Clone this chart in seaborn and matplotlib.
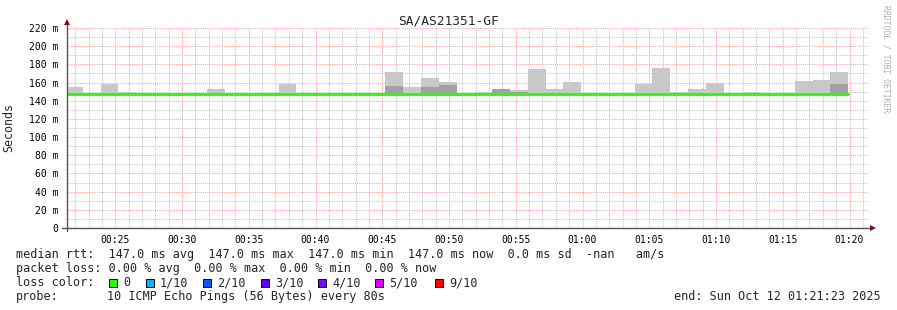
import numpy as np
import pandas as pd
import matplotlib
matplotlib.use("Agg")
import matplotlib.pyplot as plt
import matplotlib.dates as mdates
from matplotlib.patches import Rectangle
from matplotlib.ticker import MultipleLocator, FuncFormatter
import seaborn as sns

# ---------------- data ----------------
title = "SA/AS21351-GF"
first_bin = "2025-10-12 00:21:14"
step_seconds = 80
# median rtt per 80 s bin (ms)
median_ms = [147.0] * 44
# top of light smoke (max ping) per bin (ms)
smoke_max_ms = [155.1, 147.0, 158.4, 149.6, 147.0, 147.0, 147.0, 148.5, 152.9, 148.5,
                147.0, 147.0, 158.4, 148.5, 147.0, 147.0, 148.5, 148.5, 171.6, 155.1,
                165.0, 160.6, 147.0, 149.6, 152.9, 151.8, 174.9, 152.9, 160.6, 147.0,
                147.0, 147.0, 158.4, 176.0, 149.6, 152.9, 159.5, 147.0, 149.6, 147.0,
                147.0, 161.7, 162.8, 171.6]
# top of dark smoke (inner pings) per bin (ms)
smoke_dark_ms = [147.0, 147.0, 147.0, 147.0, 147.0, 147.0, 147.0, 147.0, 147.0, 147.0,
                 147.0, 147.0, 147.0, 147.0, 147.0, 147.0, 147.0, 147.0, 156.2, 149.0,
                 155.1, 157.6, 147.0, 147.0, 152.9, 149.6, 148.0, 147.0, 147.0, 147.0,
                 147.0, 147.0, 147.0, 148.0, 147.0, 147.0, 147.0, 147.0, 147.0, 147.0,
                 147.0, 147.0, 147.0, 158.4]
x_start = "2025-10-12 00:21:23"
x_end = "2025-10-12 01:21:23"

legend_line1 = ("median rtt:  147.0 ms avg  147.0 ms max  147.0 ms min  "
                "147.0 ms now  0.0 ms sd  -nan   am/s")
legend_line2 = "packet loss: 0.00 % avg  0.00 % max  0.00 % min  0.00 % now"
loss_labels = ["0", "1/10", "2/10", "3/10", "4/10", "5/10", "9/10"]
loss_colors = ["#26ff00", "#00b8ff", "#0059ff", "#5e00ff", "#7e00ff", "#dd00ff", "#ff0000"]
probe_text = "10 ICMP Echo Pings (56 Bytes) every 80s"
end_text = "end: Sun Oct 12 01:21:23 2025"

# ---------------- style ----------------
sns.set_theme(style="white")
plt.rcParams["font.family"] = ["DejaVu Sans Mono", "DejaVu Sans"]

W, H = 897, 310
fig = plt.figure(figsize=(W / 100, H / 100), dpi=100)
fig.patch.set_facecolor("white")
ax = fig.add_axes([67 / W, (H - 228) / H, (868 - 67) / W, 200 / H])
ax.set_facecolor("white")

bins = pd.date_range(first_bin, periods=len(median_ms), freq=f"{step_seconds}s")
width = step_seconds / 86400.0
med = np.array(median_ms)
smax = np.array(smoke_max_ms)
sdark = np.array(smoke_dark_ms)

light = "#c8c8c8"
dark = "#a2a2a2"
ax.bar(bins, smax - med, bottom=med, width=width, align="edge", color=light,
       linewidth=0, zorder=2)
ax.bar(bins, sdark - med, bottom=med, width=width, align="edge", color=dark,
       linewidth=0, zorder=3)

edges = list(bins) + [bins[-1] + pd.Timedelta(seconds=step_seconds)]
line_df = pd.DataFrame({"t": edges, "rtt": list(med) + [med[-1]]})
sns.lineplot(data=line_df, x="t", y="rtt", drawstyle="steps-post", color="#26ff00",
             linewidth=2.1, ax=ax, zorder=5)

ax.set_xlim(pd.Timestamp(x_start), pd.Timestamp(x_end))
ax.set_ylim(0, 220)

# grid
ax.xaxis.set_major_locator(mdates.MinuteLocator(byminute=range(0, 60, 5)))
ax.xaxis.set_minor_locator(mdates.MinuteLocator())
ax.xaxis.set_major_formatter(mdates.DateFormatter("%H:%M"))
ax.yaxis.set_major_locator(MultipleLocator(20))
ax.yaxis.set_minor_locator(MultipleLocator(10))
ax.yaxis.set_major_formatter(FuncFormatter(lambda v, p: "0" if abs(v) < 1e-9 else f"{v:.0f} m"))
ax.grid(which="minor", color="#c4c4c4", linestyle=(0, (1, 1)), linewidth=0.75, zorder=1)
ax.grid(which="major", color="#ffa4a4", linestyle=(0, (1, 1)), linewidth=0.75, zorder=1)
ax.set_axisbelow(True)

ax.tick_params(axis="both", which="both", length=0)
ax.tick_params(axis="x", labelsize=7, pad=5, colors="#000000")
ax.tick_params(axis="y", labelsize=7, pad=6, colors="#000000")
ax.set_xlabel("")
ax.set_ylabel("Seconds", fontsize=8.4)
ax.yaxis.set_label_coords(-(67 - 15) / (868 - 67), 0.5025)

for s in ["top", "right", "left", "bottom"]:
    ax.spines[s].set_visible(False)

# axes with arrows
axc = "#555555"
arrow_c = "#7a1010"
ax.plot([-5 / 801, 1.005], [0, 0], transform=ax.transAxes, color=axc, lw=1.0,
        clip_on=False, zorder=6)
ax.plot([0, 0], [-3 / 200, 1.03], transform=ax.transAxes, color=axc, lw=1.0,
        clip_on=False, zorder=6)
ax.plot([1.0065], [0], transform=ax.transAxes, marker=">", ms=4.5, color=arrow_c,
        clip_on=False, zorder=7, mew=0)
ax.plot([0], [1.03], transform=ax.transAxes, marker="^", ms=4.5, color=arrow_c,
        clip_on=False, zorder=7, mew=0)

# title and watermark
def ftext(x, y, s, **kw):
    fig.text(x / W, 1 - y / H, s, **kw)

ftext(448, 24, title, ha="center", va="baseline", fontsize=9.3)
ftext(886, 5, "RRDTOOL / TOBI OETIKER", ha="center", va="top", rotation=270,
      fontsize=5.8, color="#b0b0b0")

# legend text
fs = 8.47
ftext(16, 258, legend_line1, ha="left", va="baseline", fontsize=fs)
ftext(16, 272, legend_line2, ha="left", va="baseline", fontsize=fs)
ftext(16, 286, "loss color:", ha="left", va="baseline", fontsize=fs)
sw_x = [109, 146, 203, 261, 318, 375, 435]
for xx, lab, col in zip(sw_x, loss_labels, loss_colors):
    fig.patches.append(Rectangle((xx / W, 1 - 286.5 / H), 8 / W, 7.5 / H,
                                 transform=fig.transFigure, facecolor=col,
                                 edgecolor="black", linewidth=0.7))
    ftext(xx + 14, 286, lab, ha="left", va="baseline", fontsize=fs)
ftext(16, 300, "probe:", ha="left", va="baseline", fontsize=fs)
ftext(107, 300, probe_text, ha="left", va="baseline", fontsize=fs)
ftext(881, 300, end_text, ha="right", va="baseline", fontsize=fs)

fig.savefig("out.png", dpi=100, facecolor="white")
